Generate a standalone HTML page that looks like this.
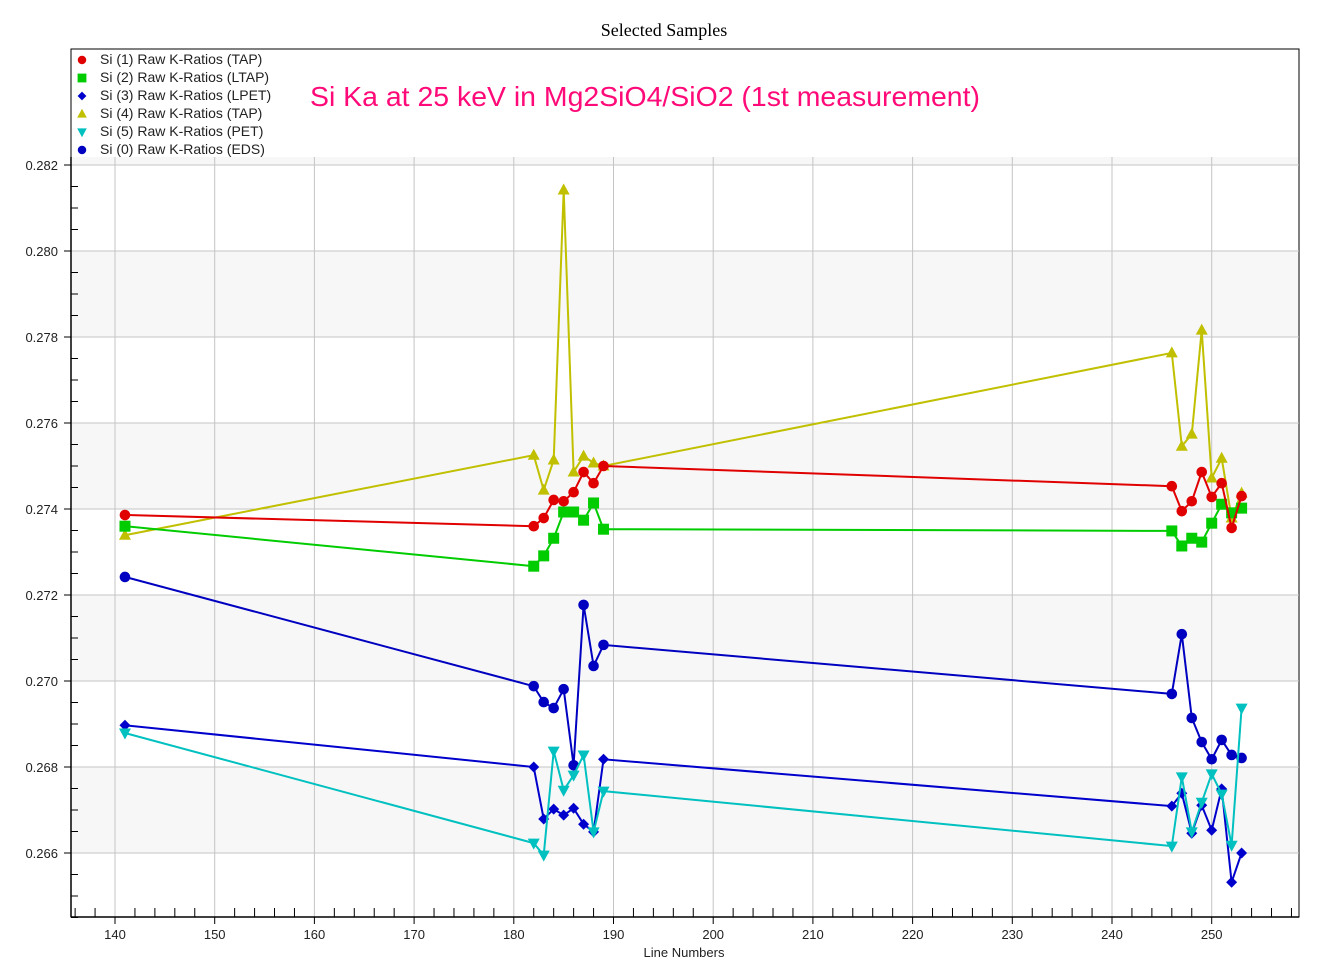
<!DOCTYPE html>
<html><head><meta charset="utf-8"><style>
html,body{margin:0;padding:0;background:#fff;width:1329px;height:962px;overflow:hidden}
svg{display:block}
</style></head><body>
<svg id="chart" width="1329" height="962" xmlns="http://www.w3.org/2000/svg" font-family="Liberation Sans, Arial, sans-serif"></svg>
<script>
const xValues=[141,182,183,184,185,186,187,188,189,246,247,248,249,250,251,252,253];
const tap1=[0.27386,0.27360,0.27379,0.27421,0.27418,0.27439,0.27486,0.27460,0.27500,0.27453,0.27395,0.27418,0.27486,0.27428,0.27460,0.27356,0.27430];
const ltap2=[0.27360,0.27267,0.27291,0.27332,0.27393,0.27393,0.27374,0.27414,0.27353,0.27349,0.27314,0.27332,0.27323,0.27367,0.27411,0.27391,0.27402];
const lpet3=[0.26897,0.26800,0.26679,0.26702,0.26688,0.26704,0.26667,0.26649,0.26818,0.26709,0.26739,0.26646,0.26711,0.26653,0.26749,0.26532,0.26600];
const tap4=[0.27339,0.27525,0.27444,0.27514,0.28142,0.27486,0.27523,0.27507,0.27500,0.27763,0.27546,0.27574,0.27816,0.27472,0.27518,0.27379,0.27437];
const pet5=[0.26879,0.26623,0.26595,0.26837,0.26746,0.26781,0.26828,0.26649,0.26744,0.26616,0.26777,0.26649,0.26718,0.26784,0.26737,0.26618,0.26937];
const eds0=[0.27242,0.26988,0.26951,0.26937,0.26981,0.26804,0.27177,0.27035,0.27084,0.26970,0.27109,0.26914,0.26858,0.26818,0.26863,0.26828,0.26821];
const xTicks=[140,150,160,170,180,190,200,210,220,230,240,250];
const yTicks=[0.266,0.268,0.270,0.272,0.274,0.276,0.278,0.280,0.282];
const legendLabels=["Si (1) Raw K-Ratios (TAP)","Si (2) Raw K-Ratios (LTAP)","Si (3) Raw K-Ratios (LPET)","Si (4) Raw K-Ratios (TAP)","Si (5) Raw K-Ratios (PET)","Si (0) Raw K-Ratios (EDS)"];

const NS="http://www.w3.org/2000/svg";
const svg=document.getElementById('chart');
const L=71,R=1299,T=157,B=917;
function X(v){return 115+(v-140)*9.97;}
function Y(v){return 165+(0.282-v)/0.002*86;}
function mk(tag,attrs,parent){const e=document.createElementNS(NS,tag);for(const k in attrs)e.setAttribute(k,attrs[k]);(parent||svg).appendChild(e);return e;}

let t=mk('text',{x:664,y:36,'text-anchor':'middle','font-family':'Liberation Serif, serif','font-size':18,fill:'#000'});
t.textContent='Selected Samples';


let fr=mk('rect',{x:71,y:49,width:1228,height:868,fill:'none',stroke:'#000','stroke-width':1});


const gp=mk('g',{});


for(let i=0;i<yTicks.length-1;i++){
  if(i%2===0){
    let r=mk('rect',{x:L+1,y:Y(yTicks[i+1]),width:R-L-2,height:Y(yTicks[i])-Y(yTicks[i+1]),fill:'#f7f7f7'},gp);
    
    
  }
}
mk('rect',{x:L+1,y:T,width:R-L-2,height:8,fill:'#f7f7f7'},gp);
yTicks.forEach(v=>{
  let l=mk('line',{x1:L,x2:R,y1:Y(v),y2:Y(v),stroke:'#c4c4c4','stroke-width':1},gp);
  
  
});
xTicks.forEach(v=>{
  let l=mk('line',{x1:X(v),x2:X(v),y1:T,y2:B,stroke:'#c4c4c4','stroke-width':1},gp);
  
  
});
let ax=mk('line',{x1:L,x2:L,y1:T,y2:B,stroke:'#000','stroke-width':1.5});


let bx=mk('line',{x1:L,x2:R,y1:B,y2:B,stroke:'#000','stroke-width':1.5});


for(let v=0.2645;v<=0.28201;v+=0.0005){
  const py=Y(v);
  const major=Math.abs(v*1000-Math.round(v*1000))<1e-6&&Math.round(v*1000)%2===0;
  if(major){mk('line',{x1:L-7,x2:L,y1:py,y2:py,stroke:'#000'});}
  else mk('line',{x1:L,x2:L+7,y1:py,y2:py,stroke:'#000'});
}
yTicks.forEach(v=>{
  let tx=mk('text',{x:L-13,y:Y(v)+5,'text-anchor':'end','font-size':13,fill:'#222'});
  tx.textContent=v.toFixed(3);
  
  
});
for(let v=136;v<=258;v+=2){
  const px=X(v);
  if(v%10===0) mk('line',{x1:px,x2:px,y1:B,y2:B+7,stroke:'#000'});
  else mk('line',{x1:px,x2:px,y1:B-9,y2:B,stroke:'#000'});
}
xTicks.forEach(v=>{
  let tx=mk('text',{x:X(v),y:939,'text-anchor':'middle','font-size':13,fill:'#222'});
  tx.textContent=String(v);
  
  
});
let xt=mk('text',{x:684,y:957,'text-anchor':'middle','font-size':13,fill:'#222'});
xt.textContent='Line Numbers';



function marker(shape,color,cx,cy,g){
  let e;
  if(shape==='circle') e=mk('circle',{cx:cx,cy:cy,r:5.3,fill:color},g);
  else if(shape==='square') e=mk('rect',{x:cx-5.5,y:cy-5.5,width:11,height:11,fill:color},g);
  else if(shape==='diamond') e=mk('polygon',{points:`${cx},${cy-5.5} ${cx+5.5},${cy} ${cx},${cy+5.5} ${cx-5.5},${cy}`,fill:color},g);
  else if(shape==='up') e=mk('polygon',{points:`${cx},${cy-6.5} ${cx+6},${cy+4.5} ${cx-6},${cy+4.5}`,fill:color},g);
  else e=mk('polygon',{points:`${cx},${cy+6.5} ${cx+6},${cy-4.5} ${cx-6},${cy-4.5}`,fill:color},g);
  return e;
}
const series=[
  {d:tap1,c:'#e00000',s:'circle',n:'series-tap1'},
  {d:ltap2,c:'#00cc00',s:'square',n:'series-ltap2'},
  {d:lpet3,c:'#0000cc',s:'diamond',n:'series-lpet3'},
  {d:tap4,c:'#c0c000',s:'up',n:'series-tap4'},
  {d:pet5,c:'#00c0c0',s:'down',n:'series-pet5'},
  {d:eds0,c:'#0000c0',s:'circle',n:'series-eds0'}
];
const drawOrder=[5,2,4,3,1,0];
drawOrder.forEach(i=>{
  const sr=series[i];
  const g=mk('g',{});
  
  
  const pts=xValues.map((x,j)=>X(x).toFixed(1)+','+Y(sr.d[j]).toFixed(1)).join(' ');
  let pl=mk('polyline',{points:pts,fill:'none',stroke:sr.c,'stroke-width':2},g);
  
  
  xValues.forEach((x,j)=>{
    const m=marker(sr.s,sr.c,X(x),Y(sr.d[j]),g);
    
    
  });
});
const lg=mk('g',{});


legendLabels.forEach((lab,i)=>{
  const cy=60+i*18;
  const sr=series[i];
  const m=marker(sr.s,sr.c,82,cy,lg);
  m.setAttribute('transform',`translate(82 ${cy}) scale(0.8) translate(-82 ${-cy})`);
  
  
  let tx=mk('text',{x:100,y:cy+4,'font-size':14,fill:'#222'},lg);
  tx.textContent=lab;
  
  
});
let an=mk('text',{x:310,y:106,'font-size':28,fill:'#ff0a78',textLength:670,lengthAdjust:'spacingAndGlyphs'});
an.textContent='Si Ka at 25 keV in Mg2SiO4/SiO2 (1st measurement)';


</script>
</body></html>
